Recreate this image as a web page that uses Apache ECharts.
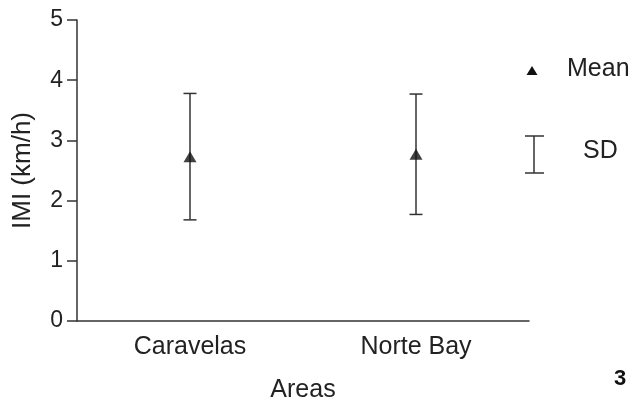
<!DOCTYPE html>
<html>
<head>
<meta charset="utf-8">
<script src="https://cdn.jsdelivr.net/npm/echarts@6/dist/echarts.min.js"></script>
<style>html,body{margin:0;padding:0;background:#fff}#c{width:635px;height:400px}</style>
</head>
<body>
<div id="c"></div>
<script>
const categories = ['Caravelas', 'Norte Bay'];
const means = [2.73, 2.77];
const sds = [1.05, 1.0];
const yTicks = [0, 1, 2, 3, 4, 5];

const FONT = 'Liberation Sans, Arial, Helvetica, sans-serif';
const TXT = '#222';
const chart = echarts.init(document.getElementById('c'), null, {renderer: 'canvas'});
const errData = categories.map((c, i) => [i, means[i] - sds[i], means[i] + sds[i]]);

chart.setOption({
  animation: false,
  grid: {left: 77, right: 106, top: 20, bottom: 79, containLabel: false, outerBoundsMode: 'none'},
  xAxis: {
    type: 'category', data: categories, boundaryGap: true,
    name: 'Areas', nameLocation: 'middle', nameGap: 57,
    nameTextStyle: {fontFamily: FONT, fontSize: 25, color: TXT},
    axisLine: {lineStyle: {color: '#333', width: 1.5}},
    axisTick: {alignWithLabel: true, length: 10, lineStyle: {color: '#333', width: 1.5}},
    axisLabel: {fontFamily: FONT, fontSize: 25, color: TXT, margin: 14}
  },
  yAxis: {
    type: 'value', min: yTicks[0], max: yTicks[yTicks.length - 1], interval: 1,
    name: 'IMI (km/h)', nameLocation: 'middle', nameGap: 41,
    nameTextStyle: {fontFamily: FONT, fontSize: 26, color: TXT, padding: [0, 0, 0, 0]},
    splitLine: {show: false},
    axisLine: {show: true, lineStyle: {color: '#333', width: 1.5}},
    axisTick: {show: true, length: 10, lineStyle: {color: '#333', width: 1.5}},
    axisLabel: {fontFamily: FONT, fontSize: 23, color: TXT, margin: 14}
  },
  series: [
    {
      name: 'SD', type: 'custom', data: errData, z: 2,
      renderItem: function (params, api) {
        const x = api.value(0);
        const lo = api.coord([x, api.value(1)]);
        const hi = api.coord([x, api.value(2)]);
        const hw = 6.5;
        const st = {stroke: '#333', lineWidth: 1.5};
        return {type: 'group', children: [
          {type: 'line', shape: {x1: lo[0], y1: lo[1], x2: hi[0], y2: hi[1]}, style: st},
          {type: 'line', shape: {x1: lo[0] - hw, y1: lo[1], x2: lo[0] + hw, y2: lo[1]}, style: st},
          {type: 'line', shape: {x1: hi[0] - hw, y1: hi[1], x2: hi[0] + hw, y2: hi[1]}, style: st}
        ]};
      }
    },
    {
      name: 'Mean', type: 'scatter', data: means, z: 3,
      symbol: 'triangle', symbolSize: [13, 11],
      itemStyle: {color: '#111'}
    }
  ],
  graphic: [
    {type: 'polygon', shape: {points: [[532, 66], [537.5, 75], [526.5, 75]]}, style: {fill: '#111'}},
    {type: 'text', style: {text: 'Mean', x: 567, y: 69, fontFamily: FONT, fontSize: 25, fill: TXT, verticalAlign: 'middle'}},
    {type: 'line', shape: {x1: 534, y1: 136, x2: 534, y2: 173}, style: {stroke: '#333', lineWidth: 1.5}},
    {type: 'line', shape: {x1: 525, y1: 136, x2: 544, y2: 136}, style: {stroke: '#333', lineWidth: 1.5}},
    {type: 'line', shape: {x1: 525, y1: 173, x2: 544, y2: 173}, style: {stroke: '#333', lineWidth: 1.5}},
    {type: 'text', style: {text: 'SD', x: 583, y: 151, fontFamily: FONT, fontSize: 25, fill: TXT, verticalAlign: 'middle'}},
    {type: 'text', style: {text: '3', x: 614, y: 379, fontFamily: FONT, fontSize: 22, fontWeight: 'bold', fill: '#111', verticalAlign: 'middle'}}
  ]
});
</script>
</body>
</html>
